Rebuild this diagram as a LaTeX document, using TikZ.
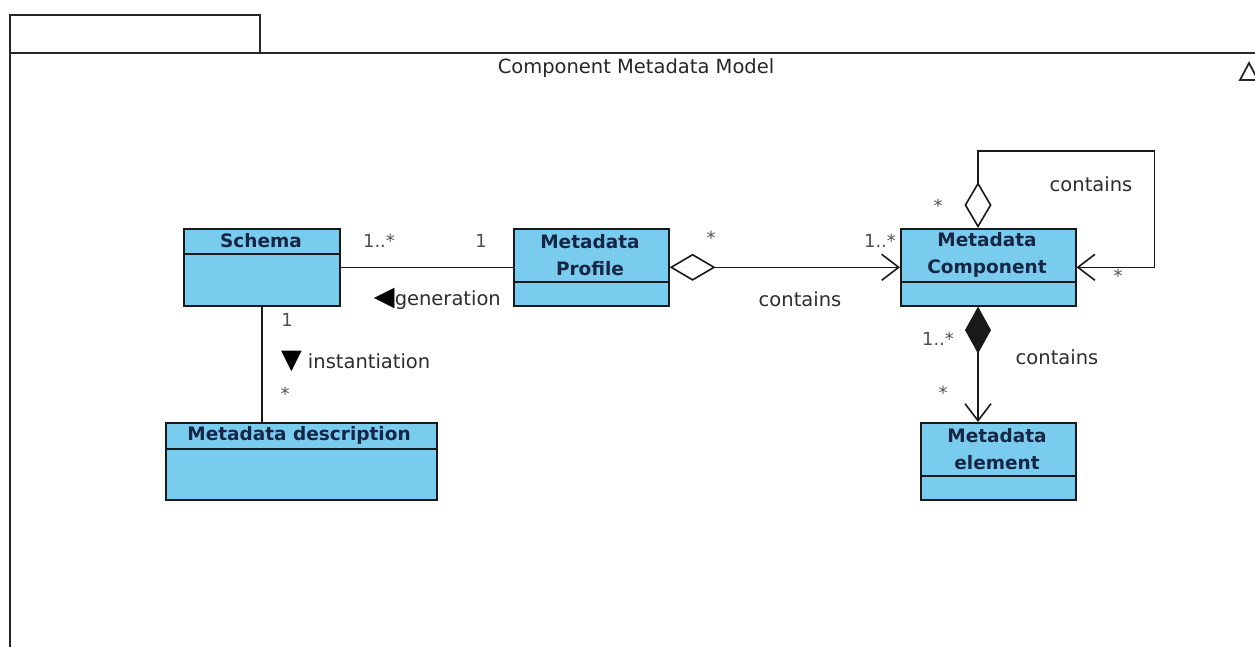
\documentclass[tikz,border=0pt]{standalone}
\usepackage{fontspec}
\setmainfont{DejaVu Sans}
\usetikzlibrary{arrows.meta}
\definecolor{boxfill}{RGB}{122,204,238}
\definecolor{boxtext}{RGB}{22,38,68}
\definecolor{lbl}{RGB}{45,45,45}
\definecolor{mult}{RGB}{80,80,80}
\tikzset{
  odiam/.tip={Diamond[open,fill=white,length=46pt,width=27pt]},
  fdiam/.tip={Diamond[length=47pt,width=26pt]},
  barb/.tip={Straight Barb[length=17pt,width=26pt]}
}
\begin{document}
\begin{tikzpicture}[x=1pt,y=-1pt,
  frame/.style={draw=black!85,line width=1.8pt},
  cls/.style={draw=black!90,line width=1.6pt,fill=boxfill,minimum width=#1,minimum height=77pt,inner sep=0pt,anchor=north west},
  clsname/.style={font=\bfseries\fontsize{18.5}{26.5}\selectfont,text=boxtext,align=center,inner sep=0pt},
  divider/.style={draw=black!90,line width=1.6pt},
  assoc/.style={draw=black!90,line width=1.6pt},
  lab/.style={font=\fontsize{19.5}{22}\selectfont,text=lbl,inner sep=0pt},
  mul/.style={font=\fontsize{18}{20}\selectfont,text=mult,inner sep=0pt}
]
\useasboundingbox (0,0) rectangle (1255,646);
\clip (0,0) rectangle (1255,646);
% package frame
\draw[frame] (10,53) -- (10,15) -- (260,15) -- (260,53);
\draw[frame] (1262,53) -- (10,53) -- (10,652);
\node[font=\fontsize{19.5}{22}\selectfont,text=black!85,inner sep=0pt] (title) at (636,68) {Component Metadata Model};
\draw[line width=1.8pt,draw=black!85] (1240,80) -- (1249,63) -- (1258,80) -- cycle;

% classes
\node[cls=156pt] (schema) at (183,228) {};
\node[clsname] (schemaname) at (261,241) {Schema};
\draw[divider] ([yshift=-26pt]schema.north west) -- ([yshift=-26pt]schema.north east);

\node[cls=155pt] (prof) at (513,228) {};
\node[clsname] (profname) at (590,255) {Metadata\\Profile};
\draw[divider] ([yshift=-54pt]prof.north west) -- ([yshift=-54pt]prof.north east);

\node[cls=175pt] (comp) at (900,228) {};
\node[clsname] (compname) at (987,255) {Metadata\\Component};
\draw[divider] ([yshift=-54pt]comp.north west) -- ([yshift=-54pt]comp.north east);

\node[cls=271pt] (desc) at (165,422) {};
\node[clsname] (descname) at (299,435) {Metadata description};
\draw[divider] ([yshift=-27pt]desc.north west) -- ([yshift=-27pt]desc.north east);

\node[cls=155pt] (elem) at (920,422) {};
\node[clsname] (elemname) at (997,449) {Metadata\\element};
\draw[divider] ([yshift=-54pt]elem.north west) -- ([yshift=-54pt]elem.north east);

% connectors
\draw[assoc] (schema.east) -- (prof.west);
\draw[assoc,odiam-barb] (prof.east) -- (comp.west);
\draw[assoc,odiam-barb] ([xshift=78pt]comp.north west) -- ++(0,-77) -| ([xshift=78pt]comp.east) -- (comp.east);
\draw[assoc,fdiam-barb] ([xshift=78pt]comp.south west) -- ([xshift=58pt]elem.north west);
\draw[assoc] (schema.south) -- (schema.south |- desc.north);

% labels
\node[mul] (m1) at (379,241) {1..*};
\node[mul] (m2) at (481,241) {1};
\node[lab,anchor=east] (gen) at (501,299) {{\color{black}\fontsize{27}{27}\selectfont ◀}generation};
\node[mul] (m3) at (711,238) {*};
\node[mul] (m4) at (880,241) {1..*};
\node[lab] (c1) at (800,299) {contains};
\node[mul] (m5) at (938,206) {*};
\node[lab] (c2) at (1091,184) {contains};
\node[mul] (m6) at (1118,276) {*};
\node[mul] (m7) at (938,339) {1..*};
\node[lab] (c3) at (1057,357) {contains};
\node[mul] (m8) at (943,393) {*};
\node[mul] (m9) at (287,320) {1};
\node[lab,anchor=west] (inst) at (281,361) {{\color{black}\fontsize{27}{27}\selectfont ▼}\hspace{6pt}instantiation};
\node[mul] (m10) at (285,394) {*};
\end{tikzpicture}
\end{document}
